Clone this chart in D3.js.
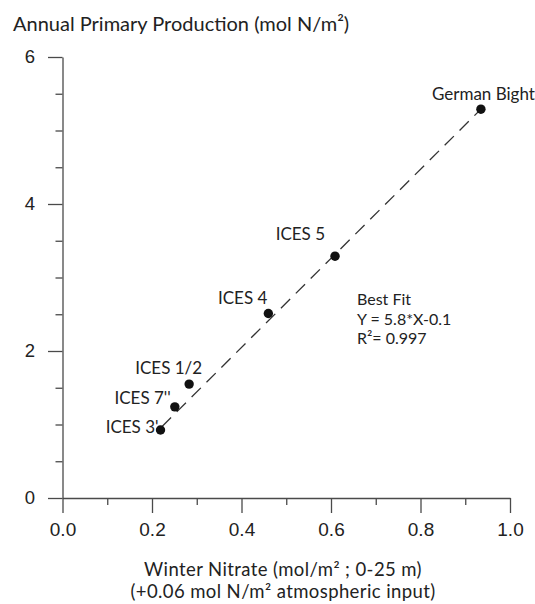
<!DOCTYPE html>
<html>
<head>
<meta charset="utf-8">
<script src="https://cdn.jsdelivr.net/npm/d3@7"></script>
<style>
  html, body { margin: 0; padding: 0; background: #fff; }
  svg { display: block; font-family: Lato, "Noto Sans", sans-serif; }
  .axis path, .axis line { stroke: #4a4a4a; stroke-width: 1.3; }
  .axis text { fill: #222; }
  .lbl { fill: #222; font-size: 17px; }
</style>
</head>
<body>
<div id="chart"></div>
<script>
// Stations: winter nitrate (x) vs annual primary production (y)
const stations = ['ICES 3\'', 'ICES 7\'\'', 'ICES 1/2', 'ICES 4', 'ICES 5', 'German Bight'];
const nitrate = [0.219, 0.251, 0.283, 0.460, 0.609, 0.935];
const production = [0.925, 1.24, 1.55, 2.51, 3.29, 5.29];

// dashed best-fit line (end points as drawn)
const fitX = [0.222, 0.935];
const fitY = [0.97, 5.29];

const xMajor = [0, 0.2, 0.4, 0.6, 0.8, 1.0];
const xMinor = [0.1, 0.3, 0.5, 0.7, 0.9];
const yMajor = [0, 2, 4, 6];
const yMinor = [0.5, 1, 1.5, 2.5, 3, 3.5, 4.5, 5, 5.5];

const fitText = ['Best Fit', 'Y = 5.8*X-0.1', 'R²= 0.997'];
const xTitle = ['Winter Nitrate (mol/m² ; 0-25 m)', '(+0.06 mol N/m² atmospheric input)'];

// label placement next to each dot (px)
const labelPos = {
  'ICES 3\'': [-2, 3],
  'ICES 7\'\'': [-4, -3],
  'ICES 1/2': [13, -10],
  'ICES 4': [-1, -10],
  'ICES 5': [-10, -16],
  'German Bight': [54, -9]
};

const W = 535, H = 604;
const svg = d3.select('#chart').append('svg').attr('width', W).attr('height', H);

const x = d3.scaleLinear().domain([0, 1]).range([62.5, 510]);
const y = d3.scaleLinear().domain([0, 6]).range([498, 57]);

// y axis
svg.append('g').attr('class', 'axis').attr('transform', `translate(${x(0)},0)`)
  .call(d3.axisLeft(y).tickValues(yMinor).tickSize(7).tickFormat(''))
  .call(g => g.select('.domain').remove());
svg.append('g').attr('class', 'axis').attr('transform', `translate(${x(0)},0)`)
  .call(d3.axisLeft(y).tickValues(yMajor).tickSize(14.5).tickSizeOuter(0).tickPadding(13).tickFormat(d3.format('d')))
  .call(g => g.selectAll('text').attr('font-size', 18.5));

// x axis
svg.append('g').attr('class', 'axis').attr('transform', `translate(0,${y(0)})`)
  .call(d3.axisBottom(x).tickValues(xMinor).tickSize(7).tickFormat(''))
  .call(g => g.select('.domain').remove());
svg.append('g').attr('class', 'axis').attr('transform', `translate(0,${y(0)})`)
  .call(d3.axisBottom(x).tickValues(xMajor).tickSize(15).tickSizeOuter(0).tickPadding(10).tickFormat(d3.format('.1f')))
  .call(g => g.selectAll('text').attr('font-size', 19));

// fit line
svg.append('line')
  .attr('x1', x(fitX[0])).attr('y1', y(fitY[0]))
  .attr('x2', x(fitX[1])).attr('y2', y(fitY[1]))
  .attr('stroke', '#333').attr('stroke-width', 1.3)
  .attr('stroke-dasharray', '13 8');

// points
const pts = stations.map((s, i) => ({ name: s, x: nitrate[i], y: production[i] }));
svg.append('g').selectAll('circle').data(pts).join('circle')
  .attr('cx', d => x(d.x)).attr('cy', d => y(d.y)).attr('r', 4.7).attr('fill', '#111');

svg.append('g').selectAll('text').data(pts).join('text')
  .attr('class', 'lbl')
  .attr('x', d => x(d.x) + labelPos[d.name][0])
  .attr('y', d => y(d.y) + labelPos[d.name][1])
  .attr('text-anchor', 'end')
  .text(d => d.name);

// best-fit annotation
svg.append('g').selectAll('text').data(fitText).join('text')
  .attr('class', 'lbl').style('font-size', '16px')
  .attr('x', 357).attr('y', (d, i) => 305 + i * 19.5)
  .text(d => d);

// y title
svg.append('text').attr('x', 13).attr('y', 31).attr('font-size', 20).attr('fill', '#222')
  .text('Annual Primary Production (mol N/m²)');

// x title (two lines)
svg.append('g').selectAll('text').data(xTitle).join('text')
  .attr('x', 283).attr('y', (d, i) => 576 + i * 22)
  .attr('text-anchor', 'middle')
  .attr('font-size', 18.5).attr('letter-spacing', 0.4).attr('fill', '#222')
  .text(d => d);
</script>
</body>
</html>
